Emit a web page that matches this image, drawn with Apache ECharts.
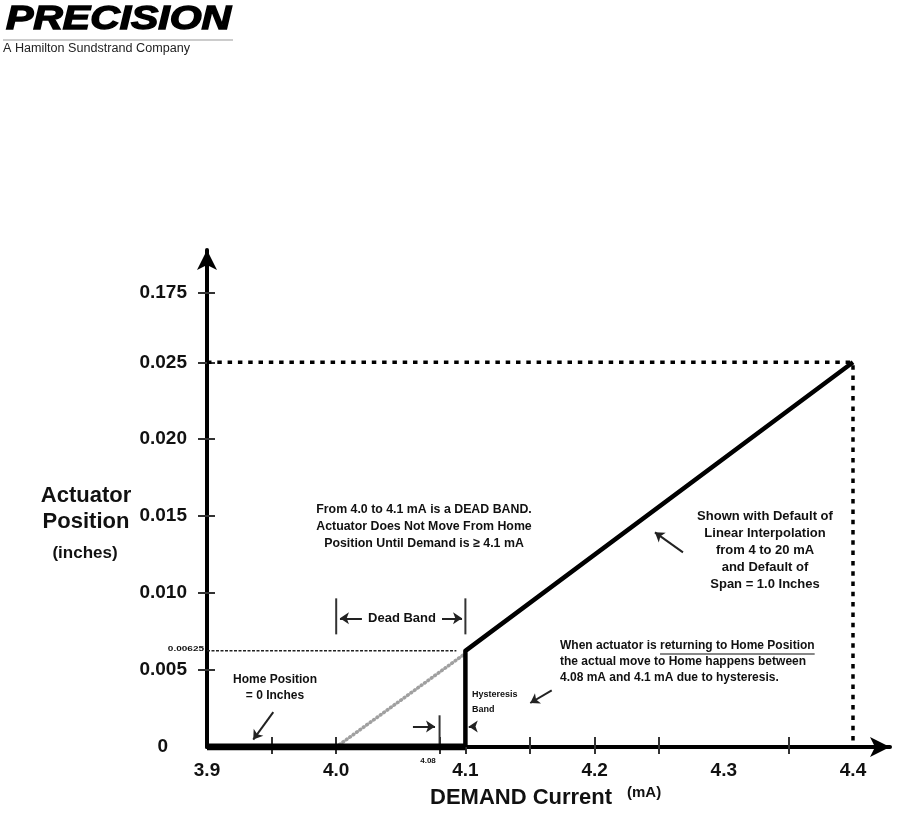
<!DOCTYPE html>
<html><head><meta charset="utf-8">
<script src="https://cdn.jsdelivr.net/npm/echarts@6/dist/echarts.min.js"></script>
<style>html,body{margin:0;padding:0;background:#fff}#c{width:899px;height:833px}</style>
</head><body><div id="c"></div>
<script>
// ---- data ----
const xLabelValues = [3.9, 4.0, 4.1, 4.2, 4.3, 4.4];
const xTickValues = [3.95, 4.0, 4.08, 4.1, 4.15, 4.2, 4.25, 4.35];
const yLabelValues = [0, 0.005, 0.010, 0.015, 0.020, 0.025, 0.0295];
const yLabelTexts = ['0', '0.005', '0.010', '0.015', '0.020', '0.025', '0.175'];
const yTickValues = [0.005, 0.010, 0.015, 0.020, 0.025, 0.0295];

const homeX = [3.9, 4.1];
const homeY = [0, 0];
const responseX = [4.1, 4.1, 4.4];
const responseY = [0, 0.00625, 0.025];
const rampX = [4.0, 4.098];
const rampY = [0, 0.00596];
const fullScaleX = [3.9, 4.4, 4.4];
const fullScaleY = [0.025, 0.025, 0];
const stepLevelX = [3.9, 4.093];
const stepLevelY = [0.00625, 0.00625];
const deadBandBarX = [4.0, 4.1];
const deadBandBarY = [0.00732, 0.00966];
const hystBarX = [4.08, 4.08];
const hystBarY = [0, 0.00206];
// arrows: [x1, y1, x2, y2] (tail -> head)
const arrowDeadLeft = [4.0199, 0.00836, 4.0029, 0.00836];
const arrowDeadRight = [4.0819, 0.00836, 4.0974, 0.00836];
const arrowHystRight = [4.0594, 0.00134, 4.0765, 0.00134];
const arrowHystLeft = [4.1072, 0.00134, 4.1026, 0.00134];
const arrowHome = [3.9513, 0.00227, 3.9358, 0.00048];
const arrowSlope = [4.2684, 0.01265, 4.2467, 0.01395];
const arrowHystNote = [4.1668, 0.00368, 4.1502, 0.00286];

const X_MIN = 3.9, X_MAX = 4.42864, Y_MIN = 0, Y_MAX = 0.032298;

const FF = '"Liberation Sans", Arial, Helvetica, sans-serif';
const zip = (xs, ys) => xs.map((x, i) => [x, ys[i]]);
const arrow = a => [{coord: [a[0], a[1]]}, {coord: [a[2], a[3]]}];

const chart = echarts.init(document.getElementById('c'), null, {renderer: 'canvas'});

function measure(txt, font) {
  const c = document.createElement('canvas').getContext('2d');
  c.font = font; return c.measureText(txt).width;
}
const noteFont = 'bold 12px ' + FF;
const notePre = 'When actuator is ';
const noteUnder = 'returning to Home Position';
const ulStart = 560 + measure(notePre, noteFont);
const ulEnd = ulStart + measure(noteUnder, noteFont);

const txt = (x, y, text, o) => Object.assign({
  type: 'text', x: x, y: y, silent: true,
  style: Object.assign({text: text, fill: '#111', fontFamily: FF, fontSize: 13, fontWeight: 'bold',
    textAlign: 'center', textVerticalAlign: 'middle'}, o && o.style || {})
}, o && o.el || {});

const option = {
  animation: false,
  backgroundColor: '#fff',
  grid: {left: 207, right: 9, top: 250, bottom: 86, containLabel: false},
  xAxis: [{
    type: 'value', min: X_MIN, max: X_MAX, position: 'bottom',
    axisLine: {show: true, onZero: false, symbol: ['none', 'arrow'], symbolSize: [15, 20],
      lineStyle: {color: '#000', width: 4}},
    axisTick: {show: true, inside: false, length: 7, customValues: xTickValues,
      lineStyle: {color: '#333', width: 2}},
    axisLabel: {show: true, customValues: xLabelValues, margin: 14, color: '#111',
      fontFamily: FF, fontSize: 19, fontWeight: 'bold',
      formatter: v => v.toFixed(1)},
    splitLine: {show: false}
  }, {
    type: 'value', min: X_MIN, max: X_MAX, position: 'bottom',
    axisLine: {show: false},
    axisTick: {show: true, inside: true, length: 10, customValues: xTickValues,
      lineStyle: {color: '#333', width: 2}},
    axisLabel: {show: false},
    splitLine: {show: false}
  }],
  yAxis: [{
    type: 'value', min: Y_MIN, max: Y_MAX, position: 'left',
    axisLine: {show: true, onZero: false, symbol: ['none', 'arrow'], symbolSize: [15, 20],
      lineStyle: {color: '#000', width: 4}},
    axisTick: {show: true, inside: false, length: 9, customValues: yTickValues,
      lineStyle: {color: '#333', width: 2}},
    axisLabel: {show: true, customValues: yLabelValues, margin: 20, color: '#111',
      fontFamily: FF, fontSize: 19, fontWeight: 'bold',
      formatter: v => {
        let idx = 0, best = 1;
        yLabelValues.forEach((y, i) => { if (Math.abs(y - v) < best) { best = Math.abs(y - v); idx = i; } });
        return idx === 0 ? '{z|0}' : yLabelTexts[idx];
      },
      rich: {z: {padding: [0, 19, 0, 0], fontFamily: FF, fontSize: 19, fontWeight: 'bold', color: '#111'}}
    },
    splitLine: {show: false}
  }, {
    type: 'value', min: Y_MIN, max: Y_MAX, position: 'left',
    axisLine: {show: false},
    axisTick: {show: true, inside: true, length: 8, customValues: yTickValues,
      lineStyle: {color: '#333', width: 2}},
    axisLabel: {show: false},
    splitLine: {show: false}
  }],
  series: [
    {type: 'line', name: 'ramp', data: zip(rampX, rampY), symbol: 'none', silent: true,
      lineStyle: {color: '#a0a0a0', width: 3.6, type: [0.6, 3.6], cap: 'round'}},
    {type: 'line', name: 'fullscale', data: zip(fullScaleX, fullScaleY), symbol: 'none', silent: true,
      lineStyle: {color: '#000', width: 3.5, type: [4.5, 5.8]}},
    {type: 'line', name: 'steplevel', data: zip(stepLevelX, stepLevelY), symbol: 'none', silent: true,
      lineStyle: {color: '#222', width: 1.5, type: [3, 1.5]}},
    {type: 'line', name: 'deadLeft', data: [[deadBandBarX[0], deadBandBarY[0]], [deadBandBarX[0], deadBandBarY[1]]],
      symbol: 'none', silent: true, lineStyle: {color: '#333', width: 2}},
    {type: 'line', name: 'deadRight', data: [[deadBandBarX[1], deadBandBarY[0]], [deadBandBarX[1], deadBandBarY[1]]],
      symbol: 'none', silent: true, lineStyle: {color: '#333', width: 2}},
    {type: 'line', name: 'hyst', data: zip(hystBarX, hystBarY), symbol: 'none', silent: true,
      lineStyle: {color: '#333', width: 2}},
    {type: 'line', name: 'home', data: zip(homeX, homeY), symbol: 'none', silent: true,
      lineStyle: {color: '#000', width: 7}},
    {type: 'line', name: 'response', data: zip(responseX, responseY), symbol: 'none', silent: true,
      lineStyle: {color: '#000', width: 4.5, join: 'round'},
      markLine: {
        silent: true, animation: false, symbol: ['none', 'arrow'], symbolSize: 9,
        label: {show: false},
        lineStyle: {color: '#222', width: 2, type: 'solid'},
        emphasis: {disabled: true},
        data: [arrow(arrowDeadLeft), arrow(arrowDeadRight), arrow(arrowHystRight),
          arrow(arrowHystLeft), arrow(arrowHome), arrow(arrowSlope), arrow(arrowHystNote)]
      }}
  ],
  graphic: [
    // logo
    txt(6, 20, 'PRECISION', {style: {fontSize: 33, fontWeight: 900, fontStyle: 'italic', textAlign: 'left',
      fill: '#000', stroke: '#000', lineWidth: 1.4}, el: {scaleX: 1.24}}),
    {type: 'line', silent: true, shape: {x1: 3, y1: 40, x2: 233, y2: 40}, style: {stroke: '#999', lineWidth: 1}},
    txt(3, 49, 'A Hamilton Sundstrand Company', {style: {fontSize: 12, fontWeight: 'normal', textAlign: 'left', fill: '#222'}, el: {scaleX: 1.05}}),
    // axis titles
    txt(86, 496, 'Actuator', {style: {fontSize: 22}}),
    txt(86, 522, 'Position', {style: {fontSize: 22}}),
    txt(85, 553, '(inches)', {style: {fontSize: 17}}),
    txt(430, 798, 'DEMAND Current', {style: {fontSize: 22, textAlign: 'left'}}),
    txt(627, 793, '(mA)', {style: {fontSize: 15, textAlign: 'left'}}),
    // small labels
    txt(204, 649, '0.00625', {style: {fontSize: 8, textAlign: 'right'}, el: {scaleX: 1.25}}),
    txt(428, 761, '4.08', {style: {fontSize: 8}}),
    // annotations
    txt(424, 526, 'From 4.0 to 4.1 mA is a DEAD BAND.\nActuator Does Not Move From Home\nPosition Until Demand is \u2265 4.1 mA',
      {style: {fontSize: 13, lineHeight: 17}, el: {scaleX: 0.95}}),
    txt(765, 550, 'Shown with Default of\nLinear Interpolation\nfrom 4 to 20 mA\nand Default of\nSpan = 1.0 Inches',
      {style: {fontSize: 13, lineHeight: 17}}),
    txt(402, 618, 'Dead Band', {style: {fontSize: 13}}),
    txt(560, 662, notePre + noteUnder + '\nthe actual move to Home happens between\n4.08 mA and 4.1 mA due to hysteresis.',
      {style: {fontSize: 12, lineHeight: 16, textAlign: 'left'}}),
    {type: 'line', silent: true, shape: {x1: ulStart, y1: 654, x2: ulEnd, y2: 654}, style: {stroke: '#111', lineWidth: 1.2}},
    txt(275, 688, 'Home Position\n= 0 Inches', {style: {fontSize: 12, lineHeight: 16}}),
    txt(472, 702, 'Hysteresis\nBand', {style: {fontSize: 9, lineHeight: 15, textAlign: 'left'}})
  ]
};
chart.setOption(option);
</script>
</body></html>
